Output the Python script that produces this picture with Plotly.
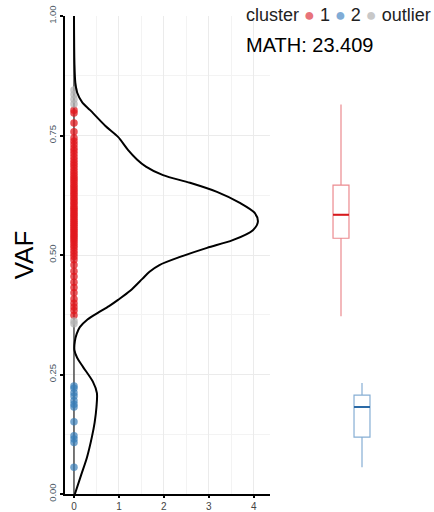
import plotly.graph_objects as go

# ---- data ----
red_vaf = [0.803, 0.797, 0.776, 0.758, 0.745, 0.738, 0.731, 0.724, 0.718, 0.712, 0.705, 0.699,
           0.693, 0.688, 0.682, 0.676, 0.671, 0.666, 0.661, 0.657, 0.652, 0.647, 0.643, 0.638,
           0.634, 0.629, 0.625, 0.620, 0.616, 0.611, 0.607, 0.602, 0.598, 0.594, 0.590, 0.586,
           0.582, 0.578, 0.574, 0.570, 0.566, 0.562, 0.558, 0.554, 0.550, 0.546, 0.542, 0.538,
           0.534, 0.530, 0.525, 0.520, 0.515, 0.509, 0.503, 0.497, 0.490, 0.479, 0.466, 0.455,
           0.443, 0.432, 0.421, 0.408, 0.399, 0.391, 0.384, 0.374]
blue_vaf = [0.226, 0.221, 0.212, 0.205, 0.195, 0.188, 0.182, 0.151, 0.122, 0.115, 0.108, 0.056]
grey_vaf = [0.845, 0.836, 0.826, 0.816, 0.362, 0.356]

density_vaf = [0.00, 0.04, 0.077, 0.12, 0.15, 0.182, 0.211, 0.235, 0.266, 0.285, 0.301, 0.32,
               0.335, 0.349, 0.365, 0.379, 0.393, 0.406, 0.425, 0.45, 0.465, 0.479, 0.496, 0.515,
               0.531, 0.552, 0.569, 0.588, 0.609, 0.632, 0.651, 0.667, 0.685, 0.70, 0.72, 0.747,
               0.77, 0.803, 0.82, 0.84, 0.86, 0.9, 1.0]
density_val = [0.02, 0.16, 0.29, 0.40, 0.46, 0.50, 0.51, 0.42, 0.20, 0.07, 0.01, 0.02,
               0.06, 0.13, 0.30, 0.53, 0.78, 0.98, 1.25, 1.52, 1.68, 1.90, 2.36, 2.96,
               3.53, 3.98, 4.09, 4.02, 3.69, 3.18, 2.58, 1.98, 1.60, 1.40, 1.20, 0.98,
               0.70, 0.36, 0.18, 0.07, 0.03, 0.01, 0.0]

box_clusters = ["1", "2"]
box_pos = [1, 2]
box_lower = [0.372, 0.056]
box_q1 = [0.535, 0.119]
box_median = [0.584, 0.182]
box_q3 = [0.646, 0.207]
box_upper = [0.815, 0.232]
box_line_colors = ["#EC8A8F", "#86AED4"]
box_median_colors = ["#D7191C", "#2B6AA6"]

x_ticks = [0, 1, 2, 3, 4]
y_ticks = [0.0, 0.25, 0.5, 0.75, 1.0]
y_ticklabels = ["0.00", "0.25", "0.50", "0.75", "1.00"]

fig = go.Figure()

# vertical baseline at density 0
fig.add_trace(go.Scatter(x=[0, 0], y=[0, 1], mode="lines",
                         line=dict(color="#222222", width=1.2), showlegend=False,
                         hoverinfo="skip"))

# points
fig.add_trace(go.Scatter(x=[0] * len(red_vaf), y=red_vaf, mode="markers",
                         marker=dict(color="rgba(226,24,30,0.75)", size=7.5),
                         name="1", showlegend=False))
fig.add_trace(go.Scatter(x=[0] * len(blue_vaf), y=blue_vaf, mode="markers",
                         marker=dict(color="rgba(55,126,184,0.7)", size=7.5),
                         name="2", showlegend=False))
fig.add_trace(go.Scatter(x=[0] * len(grey_vaf), y=grey_vaf, mode="markers",
                         marker=dict(color="rgba(180,180,180,0.75)", size=7.5),
                         name="outlier", showlegend=False))

# density curve
fig.add_trace(go.Scatter(x=density_val, y=density_vaf, mode="lines",
                         line=dict(color="black", width=2, shape="spline", smoothing=0.8),
                         showlegend=False))

# box plots
for i in range(len(box_clusters)):
    fig.add_trace(go.Box(x=[box_pos[i]], q1=[box_q1[i]], median=[box_median[i]],
                         q3=[box_q3[i]], lowerfence=[box_lower[i]],
                         upperfence=[box_upper[i]], width=0.76,
                         line=dict(color=box_line_colors[i], width=1.2),
                         fillcolor="rgba(255,255,255,0)", xaxis="x2", yaxis="y2",
                         showlegend=False, whiskerwidth=0))
    fig.add_trace(go.Box(x=[box_pos[i]], q1=[box_median[i]], median=[box_median[i]],
                         q3=[box_median[i]], lowerfence=[box_median[i]],
                         upperfence=[box_median[i]], width=0.76,
                         line=dict(color=box_median_colors[i], width=2),
                         fillcolor="rgba(255,255,255,0)", xaxis="x2", yaxis="y2",
                         showlegend=False, whiskerwidth=0))

L = 65
W = 434 - L
H = 512 - 16 - 18
fig.update_layout(
    width=434, height=512,
    margin=dict(l=L, r=0, t=16, b=18, autoexpand=False),
    paper_bgcolor="white", plot_bgcolor="white",
    font=dict(family="Liberation Sans, Arial, sans-serif"),
    xaxis=dict(domain=[0, (270 - L) / W], range=[-0.2, 4.36], automargin=False,
               tickvals=x_ticks, ticks="outside", ticklen=2, tickwidth=1.5,
               tickcolor="black", tickfont=dict(size=10, color="#444444"),
               showline=True, linecolor="black", linewidth=2,
               showgrid=True, gridcolor="#EBEBEB", gridwidth=1, zeroline=False,
               minor=dict(dtick=0.5, showgrid=True, gridcolor="#F3F3F3", gridwidth=1)),
    xaxis2=dict(domain=[(320 - L) / W, (383 - L) / W], range=[0, 3], anchor="y2",
                visible=False, showgrid=False, zeroline=False),
    yaxis=dict(range=[0, 1], tickvals=y_ticks, ticktext=y_ticklabels, automargin=False,
               tickangle=-90, ticks="outside", ticklen=3, tickwidth=1.5,
               tickcolor="black", tickfont=dict(size=9.5, color="#4D5A66"),
               showline=True, linecolor="black", linewidth=2,
               showgrid=True, gridcolor="#EBEBEB", gridwidth=1, zeroline=False,
               minor=dict(dtick=0.125, showgrid=True, gridcolor="#F3F3F3", gridwidth=1),
               title=dict(text="VAF", font=dict(size=26, color="black"), standoff=6)),
    yaxis2=dict(range=[0, 1], anchor="x2", visible=False, showgrid=False, zeroline=False),
    showlegend=False,
)

legend_text = ("cluster <span style='color:#E8737A'>●</span> 1 "
               "<span style='color:#80ACD6'>●</span> 2 "
               "<span style='color:#C8C8C8'>●</span> outlier")
fig.add_annotation(xref="paper", yref="paper", x=(244 - L) / W, y=1.0 + 1 / H,
                   xanchor="left", yanchor="middle", showarrow=False,
                   text=legend_text, font=dict(size=18, color="#222222"))
fig.add_annotation(xref="paper", yref="paper", x=(244 - L) / W, y=1 - (45 - 16) / H,
                   xanchor="left", yanchor="middle", showarrow=False,
                   text="MATH: 23.409", font=dict(size=20, color="black"))

fig.write_html("out.html", config={"displayModeBar": False},
               post_script="document.body.style.margin='0';document.body.style.overflow='hidden';")
